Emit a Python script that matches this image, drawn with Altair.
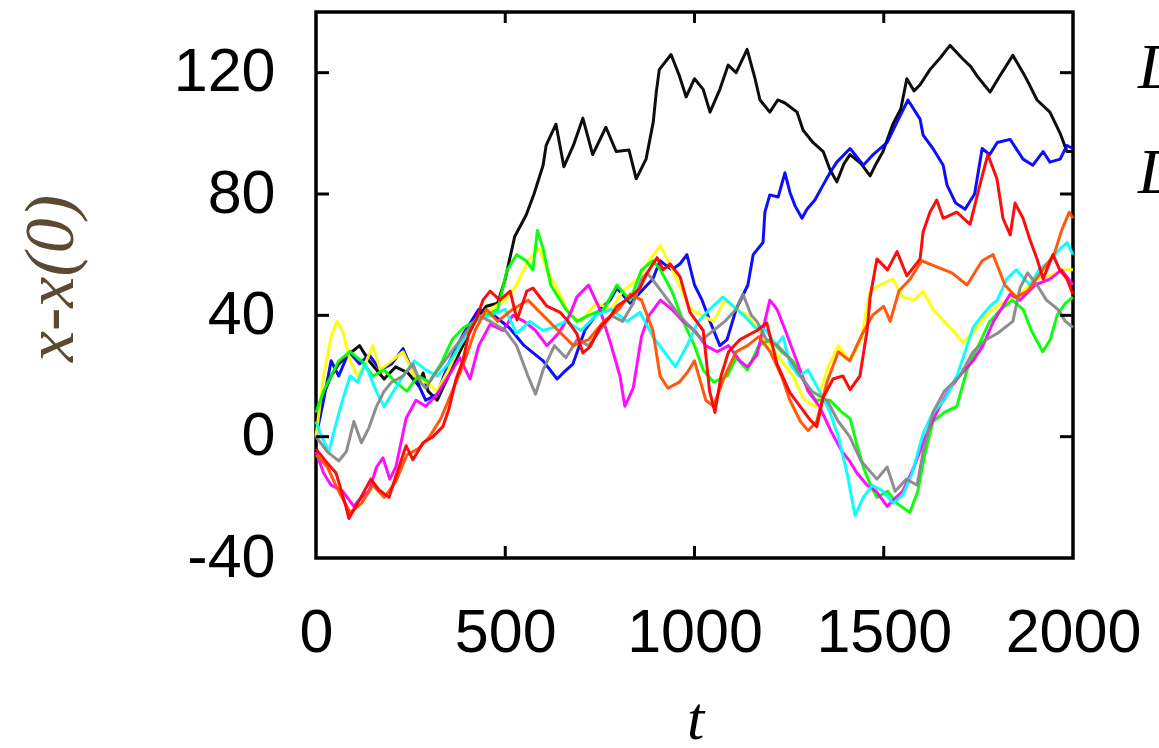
import altair as alt
import pandas as pd

# ---- axis ticks ----
X_TICKS = [0, 500, 1000, 1500, 2000]
Y_TICKS = [-40, 0, 40, 80, 120]
X_INNER = [500, 1000, 1500]
Y_INNER = [0, 40, 80, 120]

# ---- series (t, x - x(0)) ----
BLACK_T = [0, 20, 40, 60, 85, 115, 140, 180, 210, 243, 270, 283, 296, 320, 350, 380, 420, 450, 480, 500, 525, 555, 576, 600, 608, 634, 655, 680, 705, 731, 766, 793, 827, 846, 872, 891, 899, 907, 938, 960, 978, 1000, 1023, 1041, 1067, 1089, 1110, 1139, 1160, 1173, 1199, 1220, 1239, 1271, 1287, 1313, 1340, 1358, 1376, 1395, 1411, 1440, 1464, 1480, 1498, 1524, 1545, 1561, 1580, 1596, 1622, 1650, 1675, 1709, 1730, 1746, 1781, 1807, 1841, 1868, 1885, 1905, 1939, 1966, 1984, 2000]
BLACK_V = [2, 14, 20, 24, 27, 30, 25, 19, 23, 21, 17, 21, 15, 12, 20, 28, 38, 43, 44, 52, 66, 73, 80, 89.5, 96, 103, 89, 96, 105, 93, 102, 94, 94.5, 85, 91.5, 103.7, 113.6, 121, 126, 119, 112, 118, 114.5, 107, 114.5, 122.5, 120, 127.7, 118, 111, 107, 111, 110, 107, 101, 97, 94, 88, 84, 90, 93, 90, 86, 90, 94, 103, 108, 118, 114, 116, 121, 125, 129, 124.5, 122, 119, 113.6, 119, 125.7, 120, 116, 111, 107, 100, 94, 94]

BLUE_T = [0, 20, 40, 60, 87, 115, 140, 170, 200, 230, 260, 290, 320, 350, 390, 430, 470, 510, 550, 600, 637, 653, 679, 710, 750, 777, 795, 830, 860, 890, 909, 940, 962, 980, 1000, 1020, 1041, 1067, 1086, 1110, 1141, 1155, 1181, 1186, 1199, 1221, 1239, 1252, 1266, 1284, 1297, 1318, 1340, 1358, 1376, 1411, 1446, 1472, 1509, 1535, 1564, 1596, 1604, 1630, 1657, 1667, 1690, 1715, 1740, 1760, 1780, 1800, 1834, 1868, 1894, 1921, 1939, 1966, 1984, 2000]
BLUE_V = [0, 12, 25, 20, 28, 24, 27, 22, 24, 29, 20, 12, 14, 24, 34, 42, 40, 36, 30, 25, 19, 21, 24, 35, 42, 45, 49, 44, 48, 52, 58, 55, 57, 60, 50, 45, 38, 30, 32, 42, 50, 60, 64, 74, 79.7, 79, 87, 80.6, 76, 72, 75, 78, 83, 87, 90.5, 95, 89.5, 93, 97, 103.7, 111, 104.7, 99.4, 95, 89.5, 83, 77, 75, 80, 95, 93, 97, 98, 91.5, 89.5, 94, 90.5, 91.5, 96, 95]

YELLOW_T = [0, 20, 40, 55, 70, 90, 110, 130, 150, 170, 200, 230, 260, 290, 320, 350, 380, 420, 460, 500, 530, 560, 590, 610, 640, 670, 700, 740, 780, 810, 850, 880, 910, 930, 960, 990, 1020, 1050, 1080, 1110, 1140, 1170, 1200, 1230, 1260, 1290, 1320, 1353, 1380, 1410, 1440, 1464, 1490, 1524, 1550, 1580, 1604, 1630, 1660, 1690, 1709, 1740, 1770, 1800, 1840, 1870, 1900, 1940, 1970, 2000]
YELLOW_V = [0, 20, 33, 38, 35, 25, 20, 24, 30, 22, 25, 28, 20, 18, 15, 22, 30, 38, 42, 45, 50, 58, 62, 55, 48, 40, 38, 44, 42, 48, 52, 58, 63, 58, 50, 42, 40, 38, 45, 42, 40, 35, 30, 25, 20, 12, 10, 23, 30, 25, 32, 48, 50, 52, 46, 45, 48, 42, 38, 34, 31, 35, 40, 43, 46, 48, 52, 53, 55, 55]

GREEN_T = [0, 20, 40, 60, 90, 120, 150, 180, 210, 240, 270, 300, 330, 360, 390, 420, 450, 480, 505, 530, 555, 573, 585, 600, 620, 640, 660, 690, 720, 760, 795, 830, 860, 890, 910, 940, 970, 1000, 1023, 1050, 1086, 1110, 1140, 1170, 1200, 1230, 1260, 1290, 1320, 1358, 1390, 1411, 1430, 1446, 1465, 1482, 1510, 1535, 1569, 1590, 1610, 1630, 1660, 1693, 1720, 1750, 1780, 1810, 1840, 1868, 1890, 1920, 1940, 1958, 1980, 2000]
GREEN_V = [8, 15, 20, 25, 28, 25, 20, 22, 18, 15, 20, 18, 24, 32, 36, 38, 40, 42, 55, 60, 58, 55, 68, 62, 50, 46, 42, 38, 40, 42, 50, 45, 55, 58, 55, 48, 38, 30, 22, 18, 20, 26, 22, 30, 32, 28, 25, 18, 12, 12, 8, 6, -3, -10, -16, -20, -18, -22, -25, -18, -5, 5, 8, 10, 22, 30, 38, 42, 45, 42, 35, 28, 32, 40, 44, 46]

MAGENTA_T = [0, 20, 40, 71, 100, 120, 140, 160, 177, 195, 211, 238, 264, 290, 320, 350, 380, 407, 430, 460, 494, 520, 550, 580, 610, 640, 670, 689, 720, 750, 780, 803, 816, 838, 860, 880, 910, 940, 970, 1000, 1030, 1060, 1090, 1120, 1140, 1165, 1199, 1218, 1240, 1270, 1300, 1330, 1360, 1390, 1410, 1429, 1456, 1480, 1509, 1524, 1550, 1580, 1610, 1640, 1670, 1700, 1736, 1762, 1790, 1815, 1834, 1860, 1900, 1940, 1970, 2000]
MAGENTA_V = [-5, -12, -16, -18, -23, -20, -18, -10, -7, -14, -10, 6, 12, 10, 14, 20, 26, 19, 30, 37, 35, 40, 38, 35, 30, 34, 40, 46, 50, 42, 30, 20, 10, 16, 33, 40, 45, 42, 38, 35, 30, 28, 30, 25, 23, 27, 45, 42, 35, 25, 15, 10, 2, -5, -8, -12, -16, -18, -23, -21, -18, -10, 0, 8, 15, 20, 25, 30, 38, 43, 47, 45, 50, 52, 55, 50]

CYAN_T = [0, 15, 34, 50, 70, 90, 110, 130, 159, 180, 200, 230, 260, 290, 320, 350, 380, 420, 460, 500, 530, 565, 600, 626, 660, 700, 740, 780, 822, 856, 890, 920, 950, 980, 1010, 1040, 1075, 1102, 1130, 1160, 1190, 1215, 1234, 1252, 1275, 1300, 1330, 1358, 1380, 1403, 1424, 1446, 1470, 1498, 1525, 1551, 1575, 1604, 1630, 1660, 1693, 1715, 1736, 1760, 1781, 1800, 1825, 1850, 1886, 1910, 1940, 1966, 1984, 2000]
CYAN_V = [5, 0, -5, 3, 12, 20, 18, 24, 15, 10, 14, 20, 25, 22, 20, 24, 30, 38, 40, 42, 34, 38, 35, 36, 38, 35, 40, 42, 38, 41, 33, 28, 23, 30, 38, 42, 46, 43, 40, 36, 35, 30, 33, 24, 20, 22, 15, 8, 0, -12, -26, -20, -16, -18, -22, -19, -12, 1, 8, 12, 20, 28, 36, 40, 43, 45, 52, 55, 50, 55, 58, 62, 64, 60]

GRAY_T = [0, 30, 60, 80, 100, 120, 140, 160, 180, 200, 230, 256, 275, 290, 310, 340, 370, 400, 430, 460, 500, 530, 560, 580, 600, 630, 660, 690, 720, 750, 780, 810, 838, 860, 875, 900, 930, 960, 990, 1020, 1050, 1080, 1110, 1128, 1150, 1165, 1190, 1220, 1250, 1280, 1310, 1350, 1380, 1410, 1440, 1482, 1509, 1530, 1560, 1588, 1604, 1630, 1660, 1701, 1736, 1770, 1800, 1841, 1860, 1880, 1905, 1930, 1960, 1980, 2000]
GRAY_V = [0, -5, -8, -5, 5, -2, 3, 10, 15, 18, 20, 24, 18, 16, 20, 25, 30, 35, 40, 38, 35, 30, 20, 14, 22, 30, 26, 32, 30, 35, 40, 38, 44, 52, 54, 50, 45, 40, 36, 32, 35, 38, 42, 47, 40, 38, 32, 30, 26, 20, 15, 12, 5, 0, -8, -14, -10, -18, -14, -16, -5, 8, 15, 20, 28, 32, 34, 38, 49, 54, 50, 45, 42, 38, 36]

ORANGE_T = [0, 30, 60, 90, 120, 150, 180, 210, 240, 270, 300, 330, 360, 390, 420, 450, 480, 520, 560, 600, 640, 680, 720, 760, 800, 830, 860, 890, 909, 930, 960, 980, 1000, 1030, 1050, 1080, 1110, 1140, 1170, 1200, 1230, 1252, 1280, 1300, 1323, 1350, 1380, 1410, 1440, 1470, 1500, 1517, 1540, 1570, 1600, 1640, 1680, 1720, 1760, 1789, 1820, 1850, 1880, 1920, 1950, 1970, 1990, 2000]
ORANGE_V = [-6, -10, -18, -25, -22, -16, -20, -15, -6, -4, 0, 6, 15, 24, 35, 42, 38, 42, 45, 40, 35, 30, 32, 38, 42, 47, 45, 35, 20, 16, 18, 21, 25, 12, 10, 20, 28, 30, 33, 28, 20, 12, 5, 2, 5, 18, 28, 25, 33, 40, 43, 38, 48, 52, 58, 56, 54, 50, 58, 60, 50, 46, 48, 55, 60, 68, 74, 72]

RED_T = [0, 25, 53, 79, 87, 114, 145, 166, 193, 211, 238, 256, 283, 309, 335, 351, 370, 388, 404, 423, 441, 460, 486, 513, 531, 557, 573, 610, 645, 663, 689, 705, 724, 750, 777, 795, 830, 856, 875, 901, 917, 935, 962, 988, 1023, 1040, 1054, 1070, 1090, 1120, 1165, 1191, 1218, 1252, 1279, 1305, 1323, 1340, 1366, 1392, 1411, 1437, 1456, 1464, 1482, 1510, 1535, 1561, 1596, 1604, 1622, 1640, 1657, 1693, 1728, 1754, 1775, 1799, 1815, 1834, 1847, 1868, 1886, 1905, 1921, 1947, 1965, 1984, 2000]
RED_V = [-4, -8, -12, -23, -27, -21, -14, -17.5, -20, -13, -3, -7.6, -2, 0, 3.3, 9, 19, 25, 34, 38.5, 45, 48, 45, 48, 38.5, 48, 49, 43, 41, 38.5, 34, 27.6, 29.6, 36, 39.5, 43, 46, 49, 54, 59, 55, 57, 52.7, 41, 35, 15, 8, 20, 28, 32, 35, 37.5, 24, 14.5, 10, 5.6, 3.3, 13, 19, 20, 15.5, 20, 35, 46, 58.6, 55, 61, 53, 58.6, 67.5, 74, 78, 72, 74, 70, 83, 93, 85, 72, 66.5, 77, 72, 65, 58.6, 52, 60, 55, 52, 47]

SERIES = [
    ("black", BLACK_T, BLACK_V, "#000000"),
    ("blue", BLUE_T, BLUE_V, "#0000ff"),
    ("yellow", YELLOW_T, YELLOW_V, "#ffff00"),
    ("green", GREEN_T, GREEN_V, "#00ff00"),
    ("magenta", MAGENTA_T, MAGENTA_V, "#ff00ff"),
    ("cyan", CYAN_T, CYAN_V, "#00ffff"),
    ("gray", GRAY_T, GRAY_V, "#888888"),
    ("orange", ORANGE_T, ORANGE_V, "#ff5000"),
    ("red", RED_T, RED_V, "#ff0000"),
]

rows = []
for order, (name, ts, vs, _c) in enumerate(SERIES):
    for t, v in zip(ts, vs):
        rows.append({"series": name, "order": order, "t": t, "v": v})
df = pd.DataFrame(rows)

W, H = 757, 546
xscale = alt.Scale(domain=[0, 2000], nice=False, zero=False)
yscale = alt.Scale(domain=[-40, 140], nice=False, zero=False)

x_axis = alt.Axis(values=X_TICKS, ticks=False, tickSize=0, domain=False, grid=False,
                  labelExpr="'' + datum.value",
                  labelFont="Liberation Sans", labelFontSize=61, labelColor="#000000",
                  labelPadding=45, labelFlush=False, labelOverlap=False,
                  title="t", titleFont="Liberation Serif", titleFontStyle="italic",
                  titleFontWeight="normal", titleFontSize=62, titleColor="#000000",
                  titleX=379, titleY=180, titleBaseline="alphabetic", titleAlign="center")
y_axis = alt.Axis(values=Y_TICKS, ticks=False, tickSize=0, domain=False, grid=False,
                  labelExpr="'' + datum.value",
                  labelFont="Liberation Sans", labelFontSize=61, labelColor="#000000",
                  labelPadding=41, labelFlush=False, labelOverlap=False,
                  title="x-x(0)", titleFont="Liberation Serif", titleFontStyle="italic",
                  titleFontWeight="normal", titleFontSize=70, titleColor="#5b4a32",
                  titleAngle=270, titleX=-244, titleY=266, titleBaseline="alphabetic",
                  titleAlign="center")

X_ENC = alt.X("t:Q", scale=xscale, axis=x_axis)
Y_ENC = alt.Y("v:Q", scale=yscale, axis=y_axis)

layers = []
for order, (name, ts, vs, color) in enumerate(SERIES):
    sub = df[df["series"] == name]
    layers.append(alt.Chart(sub).mark_line(color=color, strokeWidth=3, opacity=0.95,
                                           strokeJoin="round").encode(
        x=X_ENC, y=Y_ENC, order="t:Q"))

# inward tick marks (mirror on all four sides)
yt = pd.DataFrame({"v": Y_INNER})
xt = pd.DataFrame({"t": X_INNER})
TL = 13
layers.append(alt.Chart(yt).mark_rule(color="black", strokeWidth=3).encode(
    y=Y_ENC, x=alt.value(0), x2=alt.value(TL)))
layers.append(alt.Chart(yt).mark_rule(color="black", strokeWidth=3).encode(
    y=Y_ENC, x=alt.value(W - TL), x2=alt.value(W)))
layers.append(alt.Chart(xt).mark_rule(color="black", strokeWidth=3).encode(
    x=X_ENC, y=alt.value(0), y2=alt.value(TL - 2)))
layers.append(alt.Chart(xt).mark_rule(color="black", strokeWidth=3).encode(
    x=X_ENC, y=alt.value(H - TL + 1), y2=alt.value(H)))

# letters cut off at the right edge, as in the reference
RIGHT_TEXT = ["D", "D"]
for txt, yy in zip(RIGHT_TEXT, [76, 181]):
    layers.append(alt.Chart(pd.DataFrame({"s": [txt]})).mark_text(
        font="Liberation Serif", fontStyle="italic", fontSize=64, align="left",
        baseline="alphabetic", color="black").encode(
        text="s:N", x=alt.value(822), y=alt.value(yy)))

chart = alt.layer(*layers).properties(
    width=W, height=H,
    background="white",
    autosize=alt.AutoSizeParams(type="none"),
    padding={"left": 316, "top": 12, "right": 86, "bottom": 190},
).configure_view(stroke="black", strokeWidth=3.5)

chart.save("out.html", embed_options={"renderer": "svg", "actions": False})
